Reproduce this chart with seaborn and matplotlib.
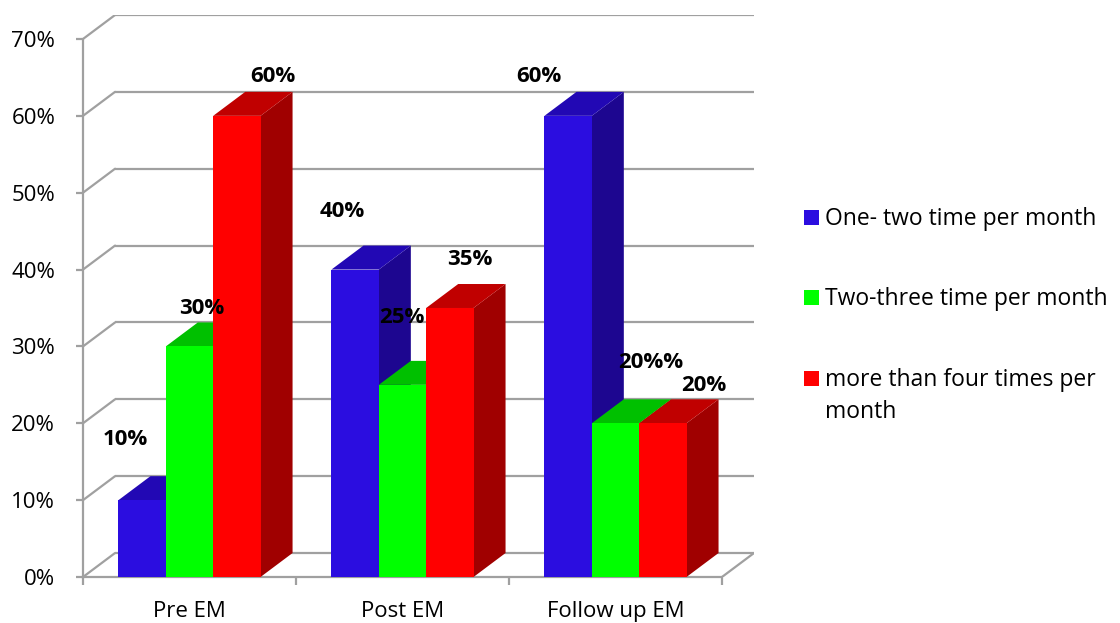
import numpy as np
import pandas as pd
import seaborn as sns
import matplotlib
matplotlib.use("Agg")
import matplotlib.pyplot as plt
from matplotlib.patches import Polygon, Rectangle

# ---- data -------------------------------------------------------------
categories = ["Pre EM", "Post EM", "Follow up EM"]
series = ["One- two time per month",
          "Two-three time per month",
          "more than four times per\nmonth"]
one_two = [0.10, 0.40, 0.60]
two_three = [0.30, 0.25, 0.20]
four_plus = [0.60, 0.35, 0.20]
one_two_labels = ["10%", "40%", "60%"]
two_three_labels = ["30%", "25%", "20%%"]
four_plus_labels = ["60%", "35%", "20%"]
y_ticks = [0.0, 0.1, 0.2, 0.3, 0.4, 0.5, 0.6, 0.7]

# ---- styling ----------------------------------------------------------
FONT = ["Open Sans", "DejaVu Sans"]
front_colors = ["#2B0DE0", "#00FF00", "#FF0000"]
top_colors = ["#2208B4", "#00C000", "#C00000"]
side_colors = ["#1D0690", "#009A00", "#A00000"]
GRID = "#A0A0A0"
# depth of the pseudo-3D box (category units, axis units)
DX, DY = 0.1504, 0.0312
# value label offsets in pixels from the top-front centre of each bar
label_offsets = [
    [(-17, 61), (-13, 58), (-29, 39)],
    [(12, 38), (-1, 67), (35, 61)],
    [(36, 39), (20, 48), (41, 38)],
]

sns.set_theme(style="white")
plt.rcParams["font.family"] = FONT

values = [one_two, two_three, four_plus]
labels = [one_two_labels, two_three_labels, four_plus_labels]
df = pd.DataFrame({
    "category": np.repeat([categories], 3, axis=0).ravel(),
    "series": np.repeat(series, 3),
    "value": np.concatenate(values),
})

fig = plt.figure(figsize=(11.2, 6.23), dpi=100)
ax = fig.add_axes([83 / 1120, 46 / 623, (754 - 83) / 1120, (608 - 46) / 623])

sns.barplot(data=df, x="category", y="value", hue="series",
            order=categories, hue_order=series, palette=front_colors,
            width=0.667, saturation=1, legend=False, linewidth=0, ax=ax)

ax.set_xlim(-0.5, 2.5 + DX)
ax.set_ylim(0, 0.7 + DY)
x0, x1 = -0.5, 2.5

# back wall gridlines and left wall diagonals
for v in y_ticks:
    ax.plot([x0 + DX, x1 + DX], [v + DY, v + DY], color=GRID, lw=1.6,
            zorder=1, solid_capstyle="butt")
    ax.plot([x0, x0 + DX], [v, v + DY], color=GRID, lw=1.6, zorder=1)
# floor right edge
ax.plot([x1, x1 + DX], [0, DY], color=GRID, lw=1.6, zorder=1)

# extrude every bar into a box
for si, cont in enumerate(ax.containers):
    for ci, rect in enumerate(cont.patches):
        x = rect.get_x()
        w = rect.get_width()
        h = rect.get_height()
        order = x
        rect.set_zorder(3 + order * 0.1 + 0.05)
        side = Polygon([(x + w, 0), (x + w + DX, DY), (x + w + DX, h + DY), (x + w, h)],
                       closed=True, facecolor=side_colors[si], edgecolor="none",
                       zorder=3 + order * 0.1)
        top = Polygon([(x, h), (x + w, h), (x + w + DX, h + DY), (x + DX, h + DY)],
                      closed=True, facecolor=top_colors[si], edgecolor="none",
                      zorder=3 + order * 0.1 + 0.01)
        ax.add_patch(side)
        ax.add_patch(top)
        dx, dy = label_offsets[si][ci]
        ax.annotate(labels[si][ci], (x + w / 2, h), xytext=(dx, dy),
                    textcoords="offset pixels", ha="center", va="center",
                    fontsize=16, fontweight="bold", color="black", zorder=10)

# axes frame
for s in ["top", "right"]:
    ax.spines[s].set_visible(False)
ax.spines["left"].set_bounds(0, 0.7)
ax.spines["bottom"].set_bounds(x0, x1)
for s in ["left", "bottom"]:
    ax.spines[s].set_color(GRID)
    ax.spines[s].set_linewidth(1.6)
    ax.spines[s].set_zorder(2)

ax.set_yticks(y_ticks)
ax.set_yticklabels([f"{t * 100:.0f}%" for t in y_ticks])
ax.tick_params(axis="y", left=True, length=5, width=1.6, color=GRID,
               pad=15, labelsize=16, labelcolor="black")
ax.set_xticks(range(len(categories)))
ax.set_xticklabels(categories)
ax.set_xticks([x0, 0.5, 1.5, x1], minor=True)
ax.tick_params(axis="x", which="major", bottom=False, length=0, pad=17,
               labelsize=16, labelcolor="black")
ax.tick_params(axis="x", which="minor", bottom=True, length=6, width=1.6,
               color=GRID)
ax.set_xlabel("")
ax.set_ylabel("")
ax.grid(False)

# legend: coloured squares with the series names (wrapped lines 32 px apart)
leg_y = [225, 305, 386]
for i, (name, col) in enumerate(zip(series, front_colors)):
    fig.add_artist(Rectangle((804 / 1120, 1 - leg_y[i] / 623), 15 / 1120, 15 / 623,
                             transform=fig.transFigure, facecolor=col,
                             edgecolor="none"))
    for li, line in enumerate(name.split("\n")):
        fig.text(825 / 1120, 1 - (leg_y[i] + 32 * li) / 623, line,
                 ha="left", va="baseline", fontsize=16.5, color="black")

fig.savefig("out.png", dpi=100)
